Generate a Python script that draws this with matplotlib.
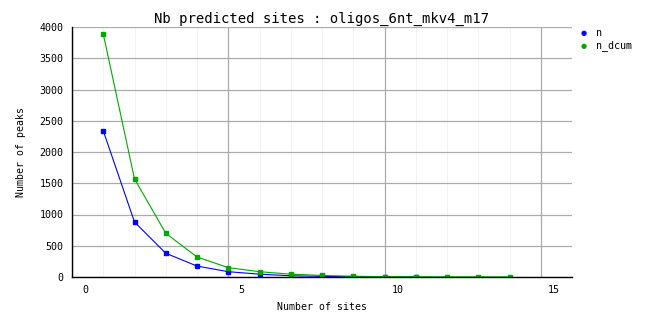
import matplotlib
matplotlib.use("Agg")
import matplotlib.pyplot as plt
from matplotlib.transforms import ScaledTranslation

title = "Nb predicted sites : oligos_6nt_mkv4_m17"
xlabel = "Number of sites"
ylabel = "Number of peaks"

x_n = [1, 2, 3, 4, 5, 6, 7, 8, 9, 10, 11]
n = [2340, 880, 380, 175, 85, 45, 20, 10, 4, 2, 1]

x_dcum = [1, 2, 3, 4, 5, 6, 7, 8, 9, 10, 11, 12, 13, 14]
n_dcum = [3890, 1570, 700, 320, 150, 85, 45, 25, 12, 6, 4, 3, 2, 1]

xticks = [0, 5, 10, 15]
yticks = [0, 500, 1000, 1500, 2000, 2500, 3000, 3500, 4000]

W, H = 662, 328
fig = plt.figure(figsize=(W / 100, H / 100), dpi=100)
ax = fig.add_axes([72 / W, (H - 277) / H, (572 - 72) / W, (277 - 27) / H])

mono = "DejaVu Sans Mono"
blue = "#0000ff"
green = "#00a800"

ax.plot(x_n, n, color=blue, lw=0.8, marker="s", ms=2.4, zorder=3)
ax.plot(x_dcum, n_dcum, color=green, lw=0.8, marker="s", ms=2.4, zorder=3)

ax.set_xlim(0, 16)
ax.set_ylim(0, 4000)
ax.set_xticks(xticks)
ax.set_xticks(range(0, 16), minor=True)
ax.set_yticks(yticks)
ax.grid(which="major", color="#ababab", lw=0.9, zorder=0)
ax.grid(which="minor", axis="x", color="#f3f3f3", lw=0.72, zorder=0)
ax.set_axisbelow(True)

for s in ["top", "right"]:
    ax.spines[s].set_visible(False)
ax.spines["left"].set_color("black")
ax.spines["bottom"].set_color("black")
ax.spines["left"].set_linewidth(1.0)
ax.spines["bottom"].set_linewidth(1.0)
ax.spines["bottom"].set_zorder(4)

ax.tick_params(which="both", length=0)
ax.tick_params(axis="y", pad=6, labelsize=7.2)
ax.tick_params(axis="x", pad=6, labelsize=7.2)
off = ScaledTranslation(13 / 100, 0, fig.dpi_scale_trans)
for lab in ax.get_xticklabels():
    lab.set_transform(lab.get_transform() + off)
    lab.set_family(mono)
for lab in ax.get_yticklabels():
    lab.set_family(mono)

ax.set_title(title, family=mono, fontsize=10, pad=3)
ax.set_xlabel(xlabel, family=mono, fontsize=7.1, labelpad=5)
ax.set_ylabel(ylabel, family=mono, fontsize=7.1, labelpad=10)

# legend (markers only)
fig.text(584 / W, 1 - 33 / H, "\u25CF", color=blue, fontsize=5, ha="center", va="center")
fig.text(596 / W, 1 - 33 / H, "n", family=mono, fontsize=7.2, ha="left", va="center")
fig.text(584 / W, 1 - 46 / H, "\u25CF", color=green, fontsize=5, ha="center", va="center")
fig.text(596 / W, 1 - 46 / H, "n_dcum", family=mono, fontsize=7.2, ha="left", va="center")

fig.savefig("out.png", dpi=100, facecolor="white")
